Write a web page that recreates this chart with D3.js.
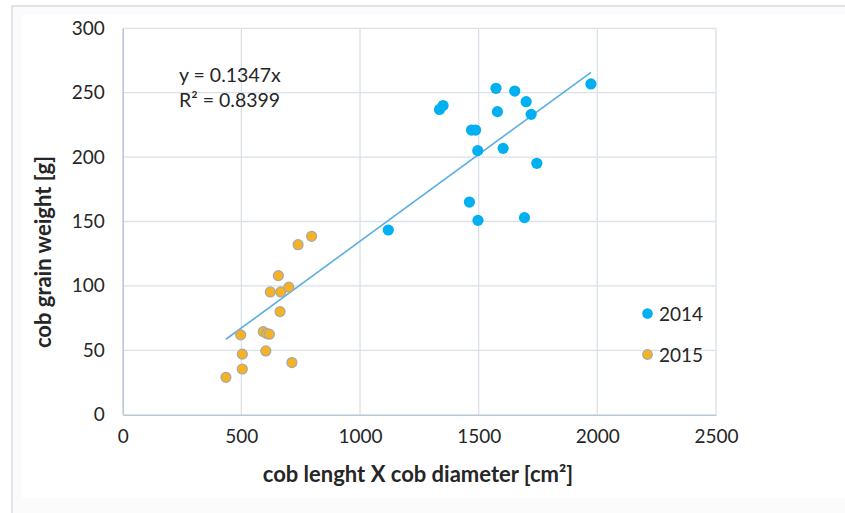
<!DOCTYPE html>
<html>
<head>
<meta charset="utf-8">
<script src="https://cdn.jsdelivr.net/npm/d3@7"></script>
<style>
  html, body { margin: 0; padding: 0; background: #ffffff; }
  svg { display: block; }
  text { font-family: Lato, "Open Sans", sans-serif; fill: #262626; }
</style>
</head>
<body>
<svg id="chart" width="845" height="513"></svg>
<script>
// Cob size index (length × diameter) against grain weight per cob, two seasons
const x2014 = [1335, 1350, 1573, 1652, 1700, 1579, 1721, 1470, 1487, 1496, 1603, 1745, 1461, 1497, 1693, 1973, 1119];
const y2014 = [237, 240, 253.4, 251.3, 243, 235.3, 233.2, 221, 221, 205, 206.8, 195.2, 165.1, 150.9, 153, 256.8, 143.4];
const x2015 = [435, 497, 504, 504, 592, 607, 618, 603, 713, 663, 622, 666, 700, 656, 739, 796];
const y2015 = [29, 62, 47, 35.5, 64.5, 63, 62.5, 49.5, 40.5, 80, 95.3, 95.3, 99, 108, 132, 138.5];
const seriesNames = ["2014", "2015"];
const xTicks = [0, 500, 1000, 1500, 2000, 2500];
const yTicks = [0, 50, 100, 150, 200, 250, 300];
const slope = 0.1347;
const rSquared = 0.8399;

const svg = d3.select("#chart");

// outer frame
svg.append("rect").attr("x", 12).attr("y", 6).attr("width", 850).attr("height", 520)
  .attr("fill", "#fbfbfb").attr("stroke", "#d8dde5").attr("stroke-width", 1.5);
svg.append("rect").attr("x", 22).attr("y", 15).attr("width", 830).attr("height", 483)
  .attr("fill", "#ffffff");

const x = d3.scaleLinear().domain([0, 2500]).range([122.7, 716]);
const y = d3.scaleLinear().domain([0, 300]).range([414.7, 28.3]);

// grid
const grid = svg.append("g");
grid.selectAll("line.h").data(yTicks.slice(1)).join("line")
  .attr("x1", x(0)).attr("x2", x(2500))
  .attr("y1", d => y(d)).attr("y2", d => y(d))
  .attr("stroke", "#d9e1e9").attr("stroke-width", 1.3);
grid.selectAll("line.v").data(xTicks.slice(1)).join("line")
  .attr("y1", y(0)).attr("y2", y(300))
  .attr("x1", d => x(d)).attr("x2", d => x(d))
  .attr("stroke", "#d9e1e9").attr("stroke-width", 1.3);

// axes
const yAxis = svg.append("g").attr("transform", `translate(${x(0)},0)`)
  .call(d3.axisLeft(y).tickValues(yTicks).tickSize(0).tickPadding(18).tickFormat(d3.format("d")));
const xAxis = svg.append("g").attr("transform", `translate(0,${y(0)})`)
  .call(d3.axisBottom(x).tickValues(xTicks).tickSize(0).tickPadding(15).tickFormat(d3.format("d")));
[yAxis, xAxis].forEach(a => {
  a.select(".domain").attr("stroke", "#b9c8d8").attr("stroke-width", 1.6);
  a.selectAll("text").attr("font-size", 19).attr("font-family", "Lato, sans-serif").attr("fill", "#262626");
});

// axis titles
svg.append("text").attr("x", 418).attr("y", 482).attr("text-anchor", "middle")
  .attr("font-size", 22).attr("font-weight", "bold")
  .text("cob lenght X cob diameter [cm²]");
svg.append("text").attr("transform", "translate(51,252) rotate(-90)").attr("text-anchor", "middle")
  .attr("font-size", 22).attr("font-weight", "bold")
  .text("cob grain weight [g]");

// trend line through the origin
const allX = x2014.concat(x2015);
const xr = d3.extent(allX);
svg.append("line")
  .attr("x1", x(xr[0])).attr("y1", y(slope * xr[0]))
  .attr("x2", x(xr[1])).attr("y2", y(slope * xr[1]))
  .attr("stroke", "#5aaee3").attr("stroke-width", 1.6);

// equation
svg.append("text").attr("x", 179).attr("y", 82).attr("font-size", 19.5).text(`y = ${slope}x`);
svg.append("text").attr("x", 179).attr("y", 107).attr("font-size", 19.5).text(`R² = ${rSquared}`);

// points
const pts2014 = x2014.map((v, i) => [v, y2014[i]]);
const pts2015 = x2015.map((v, i) => [v, y2015[i]]);
svg.append("g").selectAll("circle").data(pts2015).join("circle")
  .attr("cx", d => x(d[0])).attr("cy", d => y(d[1])).attr("r", 5)
  .attr("fill", "#f5b324").attr("stroke", "#a8a8a8").attr("stroke-width", 1.2);
svg.append("g").selectAll("circle").data(pts2014).join("circle")
  .attr("cx", d => x(d[0])).attr("cy", d => y(d[1])).attr("r", 5.6)
  .attr("fill", "#00b0f0");

// legend
const legend = svg.append("g");
const legendStyle = [
  { fill: "#00b0f0", stroke: "none", r: 5.3 },
  { fill: "#f5b324", stroke: "#a8a8a8", r: 4.8 }
];
seriesNames.forEach((name, i) => {
  const cy = 313.5 + i * 41;
  legend.append("circle").attr("cx", 647.5).attr("cy", cy).attr("r", legendStyle[i].r)
    .attr("fill", legendStyle[i].fill).attr("stroke", legendStyle[i].stroke).attr("stroke-width", 1.2);
  legend.append("text").attr("x", 659).attr("y", cy + 7).attr("font-size", 19).text(name);
});
</script>
</body>
</html>
